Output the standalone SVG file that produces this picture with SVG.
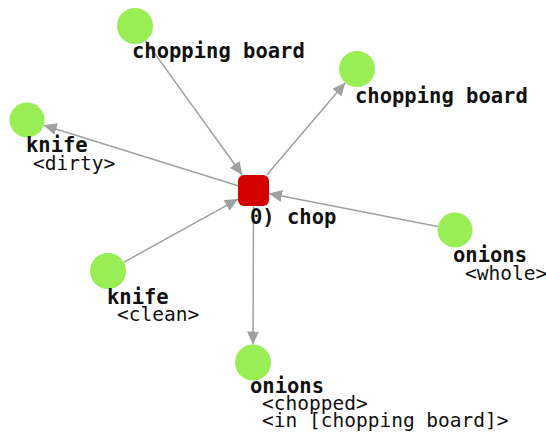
<svg xmlns="http://www.w3.org/2000/svg" width="546" height="437" viewBox="0 0 546 437">
<style>
.n{fill:#99ee55}
.t{font-family:"DejaVu Sans Mono","Liberation Mono",monospace;fill:#111}
.b{font-weight:bold;font-size:20.5px}
.r{font-size:19.5px}
.e{stroke:#a0a0a0;stroke-width:1.5;fill:none;marker-end:url(#ah)}
</style>
<defs>
<marker id="ah" markerUnits="userSpaceOnUse" markerWidth="14" markerHeight="12" refX="13" refY="6" orient="auto">
<path d="M0,0 L13,6 L0,12 z" fill="#a0a0a0"/>
</marker>
</defs>
<rect width="546" height="437" fill="#fff"/>
<g id="connectors">
<line class="e" x1="145.5" y1="40.6" x2="242.3" y2="175"/>
<line class="e" x1="266.7" y1="175" x2="345.3" y2="82.7"/>
<line class="e" x1="238" y1="185.7" x2="43.7" y2="125.2"/>
<line class="e" x1="437.8" y1="226.6" x2="269" y2="193.5"/>
<line class="e" x1="123.7" y1="262.3" x2="238" y2="199.1"/>
<line class="e" x1="253.5" y1="206" x2="253" y2="344.5"/>
</g>
<g id="chop">
<rect x="238" y="175" width="31" height="31" rx="6" fill="#d40000"/>
<text class="t b" x="250" y="224">0) chop</text>
</g>
<g id="board_in">
<circle class="n" cx="135" cy="26" r="18"/>
<text class="t b" x="132" y="58">chopping board</text>
</g>
<g id="board_out">
<circle class="n" cx="357" cy="69" r="18"/>
<text class="t b" x="355" y="103">chopping board</text>
</g>
<g id="knife_dirty">
<circle class="n" cx="27" cy="120" r="17.5"/>
<text class="t b" x="26" y="152">knife</text>
<text class="t r" x="33" y="170">&lt;dirty&gt;</text>
</g>
<g id="onions_whole">
<circle class="n" cx="455" cy="230" r="17.5"/>
<text class="t b" x="453" y="262">onions</text>
<text class="t r" x="465" y="280">&lt;whole&gt;</text>
</g>
<g id="knife_clean">
<circle class="n" cx="108" cy="271" r="18"/>
<text class="t b" x="107" y="304">knife</text>
<text class="t r" x="117" y="321">&lt;clean&gt;</text>
</g>
<g id="onions_chopped">
<circle class="n" cx="253" cy="362.5" r="18"/>
<text class="t b" x="250" y="393">onions</text>
<text class="t r" x="262" y="410">&lt;chopped&gt;</text>
<text class="t r" x="262" y="427">&lt;in [chopping board]&gt;</text>
</g>
</svg>
